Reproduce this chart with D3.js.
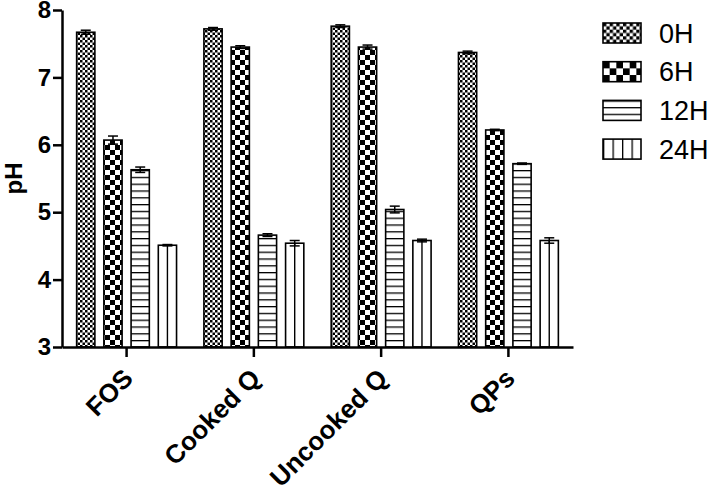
<!DOCTYPE html>
<html><head><meta charset="utf-8">
<script src="https://cdn.jsdelivr.net/npm/d3@7"></script>
<style>html,body{margin:0;padding:0;background:#fff;}</style>
</head><body>
<svg id="c" width="709" height="487"></svg>
<script>
const categories = ["FOS", "Cooked Q", "Uncooked Q", "QPs"];
const seriesNames = ["0H", "6H", "12H", "24H"];
const values0H  = [7.67, 7.72, 7.76, 7.37];
const values6H  = [6.07, 7.45, 7.45, 6.22];
const values12H = [5.63, 4.66, 5.04, 5.72];
const values24H = [4.51, 4.54, 4.58, 4.58];
const err0H  = [0.03, 0.02, 0.02, 0.02];
const err6H  = [0.06, 0.02, 0.03, 0.01];
const err12H = [0.04, 0.02, 0.05, 0.01];
const err24H = [0.01, 0.04, 0.02, 0.04];
const yTicks = [3, 4, 5, 6, 7, 8];

(function () {
const seriesVals = [values0H, values6H, values12H, values24H];
const seriesErr = [err0H, err6H, err12H, err24H];

const svg = d3.select("#c");
const mLeft = 62, mRight = 573, mTop = 10, mBottom = 347;

const x0 = d3.scaleBand().domain(categories).range([mLeft, mRight]).paddingInner(0.215).paddingOuter(0.115);
const x1 = d3.scaleBand().domain(seriesNames).range([0, x0.bandwidth()]).paddingInner(0.33).paddingOuter(0);
const y = d3.scaleLinear().domain([3, 8]).range([mBottom, mTop]);

const defs = svg.append("defs");
function checker(id, s, ox, oy) {
  const p = defs.append("pattern").attr("id", id).attr("patternUnits", "userSpaceOnUse")
    .attr("x", ox || 0).attr("y", oy || 0).attr("width", 2 * s).attr("height", 2 * s);
  p.append("rect").attr("width", 2 * s).attr("height", 2 * s).attr("fill", "#fff");
  p.append("rect").attr("width", s).attr("height", s).attr("fill", "#000");
  p.append("rect").attr("x", s).attr("y", s).attr("width", s).attr("height", s).attr("fill", "#000");
}
function hlines(id, s, oy) {
  const p = defs.append("pattern").attr("id", id).attr("patternUnits", "userSpaceOnUse")
    .attr("y", oy || 0).attr("width", 10).attr("height", s);
  p.append("rect").attr("width", 10).attr("height", s).attr("fill", "#fff");
  p.append("line").attr("x1", 0).attr("x2", 10).attr("y1", 0).attr("y2", 0).attr("stroke", "#000").attr("stroke-width", 2.6);
}
checker("p0", 2.5);
checker("p6", 5);
hlines("p12", 6.8, 0);

const fills = ["url(#p0)", "url(#p6)", "url(#p12)", "#fff"];

const g = svg.append("g");
categories.forEach((c, ci) => {
  seriesNames.forEach((s, si) => {
    const v = seriesVals[si][ci];
    const bx = x0(c) + x1(s), bw = x1.bandwidth();
    g.append("rect").attr("x", bx).attr("y", y(v)).attr("width", bw).attr("height", y(3) - y(v))
      .attr("fill", fills[si]).attr("stroke", "#000").attr("stroke-width", 1.6);
    if (si === 3) {
      g.append("line").attr("x1", bx + bw / 2).attr("x2", bx + bw / 2).attr("y1", y(v)).attr("y2", y(3))
        .attr("stroke", "#000").attr("stroke-width", 1.4);
    }
    const e = seriesErr[si][ci];
    const cx = bx + bw / 2;
    g.append("line").attr("x1", cx).attr("x2", cx).attr("y1", y(v + e)).attr("y2", y(v - e)).attr("stroke", "#000").attr("stroke-width", 1.5);
    [v + e, v - e].forEach(t => g.append("line").attr("x1", cx - 5).attr("x2", cx + 5).attr("y1", y(t)).attr("y2", y(t)).attr("stroke", "#000").attr("stroke-width", 1.5));
  });
});

const yAxis = svg.append("g").attr("transform", `translate(${mLeft},0)`)
  .call(d3.axisLeft(y).tickValues(yTicks).tickFormat(d3.format("d")).tickSize(9).tickPadding(2).tickSizeOuter(0));
yAxis.select(".domain").attr("stroke-width", 2.5);
yAxis.selectAll(".tick line").attr("stroke-width", 2.5);
yAxis.selectAll("text").attr("font-family", "Liberation Sans, Arial, sans-serif").attr("font-weight", "bold").attr("font-size", 24).attr("fill", "#000");

const xAxis = svg.append("g").attr("transform", `translate(0,${mBottom})`)
  .call(d3.axisBottom(x0).tickSize(10).tickSizeOuter(0).tickPadding(4));
xAxis.select(".domain").attr("stroke-width", 2.5);
xAxis.selectAll(".tick line").attr("stroke-width", 2.5);
xAxis.selectAll("text").attr("font-family", "Liberation Sans, Arial, sans-serif").attr("font-weight", "bold").attr("font-size", 26).attr("fill", "#000")
  .attr("text-anchor", "end").attr("dy", 0).attr("y", 0)
  .attr("transform", "translate(8,33) rotate(-45)");

svg.append("text").attr("transform", `translate(22,${(mTop + mBottom) / 2}) rotate(-90)`)
  .attr("text-anchor", "middle").attr("font-family", "Liberation Sans, Arial, sans-serif")
  .attr("font-weight", "bold").attr("font-size", 24).text("pH");

const legX = 603, legY0 = 23, legStep = 38.7, boxW = 38, boxH = 20;
checker("lp0", 3.33, legX, legY0);
checker("lp6", 6.67, legX, legY0 + legStep);
hlines("lp12", 6.67, legY0 + 2 * legStep);
const lp24 = defs.append("pattern").attr("id", "lp24").attr("patternUnits", "userSpaceOnUse")
  .attr("x", legX).attr("width", boxW / 4).attr("height", 20);
lp24.append("rect").attr("width", boxW / 4).attr("height", 20).attr("fill", "#fff");
lp24.append("line").attr("x1", 0).attr("x2", 0).attr("y1", 0).attr("y2", 20).attr("stroke", "#000").attr("stroke-width", 2.6);
const legFills = ["url(#lp0)", "url(#lp6)", "url(#lp12)", "url(#lp24)"];
const leg = svg.append("g");
seriesNames.forEach((s, i) => {
  const ly = legY0 + i * legStep;
  leg.append("rect").attr("x", legX).attr("y", ly).attr("width", boxW).attr("height", boxH)
    .attr("fill", legFills[i]).attr("stroke", "#000").attr("stroke-width", 1.6);
  leg.append("text").attr("x", 659).attr("y", ly + 19.5).attr("font-family", "Liberation Sans, Arial, sans-serif")
    .attr("font-size", 27).text(s);
});
})();
</script>
</body></html>
